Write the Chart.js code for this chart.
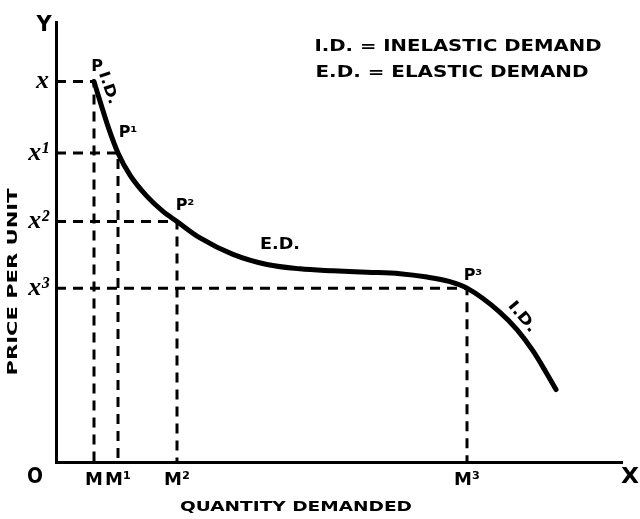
<!DOCTYPE html>
<html>
<head>
<meta charset="utf-8">
<script src="https://cdn.jsdelivr.net/npm/chart.js@4.4.1/dist/chart.umd.min.js"></script>
<style>
  html, body { margin: 0; padding: 0; background: #fff; }
</style>
</head>
<body>
<canvas id="demandChart" width="640" height="519"></canvas>
<script>
// demand curve (quantity, price per unit)
const curveQty   = [7.6, 8.9, 10.5, 12.4, 14.8, 18.2, 21.4, 24.2, 28.8, 35.4, 42.2, 48.8, 55.4, 62.2, 68.8, 74.2, 78.6, 82.2, 88.8, 92.2, 95.4, 98, 100];
const curvePrice = [78.8, 74.4, 69.2, 64, 59.4, 55, 51.9, 49.8, 46.4, 43, 40.9, 40, 39.6, 39.3, 39, 38.3, 37.4, 36, 31, 27.4, 23, 18.6, 15];

// the marked points P, P1, P2, P3
const pointNames = ['P', 'P¹', 'P²', 'P³'];
const pointQty   = [7.6, 12.4, 24.2, 82.2];
const pointPrice = [78.8, 64, 49.8, 36];

// tick labels on the two axes
const priceTickLabels = ['x', 'x¹', 'x²', 'x³'];
const qtyTickLabels   = ['M', 'M¹', 'M²', 'M³'];

const INK = '#000';
const LETTER = 'bold 15px "DejaVu Sans"';

// dashed guides: from the price axis across to the point, then down to the quantity axis
const guideSets = pointQty.map((q, i) => ({
    type: 'line',
    data: [{ x: 0, y: pointPrice[i] }, { x: q, y: pointPrice[i] }, { x: q, y: 0 }],
    borderColor: INK,
    borderWidth: 3,
    borderDash: [10, 7],
    pointRadius: 0,
    tension: 0
}));

// text drawn at a given width (hand lettering is wider than the fonts)
function drawFitted(ctx, text, cx, cy, font, width, angle) {
    ctx.save();
    ctx.translate(cx, cy);
    if (angle) ctx.rotate(angle);
    ctx.font = font;
    const w = ctx.measureText(text).width;
    if (width) ctx.scale(width / w, 1);
    ctx.textAlign = 'center';
    ctx.textBaseline = 'middle';
    ctx.fillText(text, 0, 0);
    ctx.restore();
}

const textMarks = {
    id: 'textMarks',
    afterDraw(chart) {
        const { ctx, scales: { x, y } } = chart;
        ctx.save();
        ctx.fillStyle = INK;

        // point names, just above and right of each point
        const offs = [[3, -15], [10, -20], [8, -16], [6, -12]];
        pointNames.forEach((name, i) => {
            const px = x.getPixelForValue(pointQty[i]) + offs[i][0];
            const py = y.getPixelForValue(pointPrice[i]) + offs[i][1];
            drawFitted(ctx, name, px, py, 'bold 16px "DejaVu Sans"');
        });

        // labels along the curve
        drawFitted(ctx, 'I.D.', 108, 88, LETTER, 34, 71 * Math.PI / 180);
        drawFitted(ctx, 'E.D.', 280, 245, LETTER, 40);
        drawFitted(ctx, 'I.D.', 522, 317, LETTER, 36, 50 * Math.PI / 180);

        // key
        drawFitted(ctx, 'I.D. = INELASTIC DEMAND', 458, 47, LETTER, 287);
        drawFitted(ctx, 'E.D. = ELASTIC DEMAND', 452, 73, LETTER, 273);

        // axis letters and titles
        drawFitted(ctx, 'Y', 44, 26, 'bold 21px "DejaVu Sans"');
        drawFitted(ctx, 'O', 35, 477, 'bold 22px "DejaVu Sans"', 16);
        drawFitted(ctx, 'X', 630, 477, 'bold 22px "DejaVu Sans"', 18);
        drawFitted(ctx, 'QUANTITY DEMANDED', 296, 507, 'bold 14px "DejaVu Sans"', 232);
        drawFitted(ctx, 'PRICE PER UNIT', 13, 282, 'bold 14px "DejaVu Sans"', 187, -Math.PI / 2);
        ctx.restore();
    }
};

new Chart(document.getElementById('demandChart'), {
    data: {
        datasets: [
            {
                type: 'line',
                data: curveQty.map((q, i) => ({ x: q, y: curvePrice[i] })),
                borderColor: INK,
                borderWidth: 5,
                borderCapStyle: 'round',
                borderJoinStyle: 'round',
                pointRadius: 0,
                cubicInterpolationMode: 'monotone'
            },
            ...guideSets
        ]
    },
    options: {
        responsive: false,
        animation: false,
        layout: { padding: { top: 7, right: 18, left: 0, bottom: 0 } },
        plugins: {
            legend: { display: false },
            tooltip: { enabled: false }
        },
        scales: {
            x: {
                type: 'linear',
                min: 0,
                max: 113.2,
                afterBuildTicks: s => { s.ticks = pointQty.map(v => ({ value: v })); },
                afterFit: s => { s.height = 57; },
                grid: { display: false, drawTicks: false },
                border: { color: INK, width: 3 },
                ticks: {
                    autoSkip: false,
                    maxRotation: 0,
                    padding: 8,
                    color: INK,
                    font: { family: 'DejaVu Sans', size: 18, weight: 'bold' },
                    callback: (v, i) => qtyTickLabels[i]
                }
            },
            y: {
                type: 'linear',
                min: 0,
                max: 91,
                afterBuildTicks: s => { s.ticks = pointPrice.map(v => ({ value: v })); },
                afterFit: s => { s.width = 56; },
                grid: { display: false, drawTicks: false },
                border: { color: INK, width: 3 },
                ticks: {
                    autoSkip: false,
                    padding: 7,
                    color: INK,
                    font: { family: 'Liberation Serif', size: 26, style: 'italic', weight: 'bold' },
                    callback: (v, i) => priceTickLabels[i]
                }
            }
        }
    },
    plugins: [textMarks]
});
</script>
</body>
</html>
